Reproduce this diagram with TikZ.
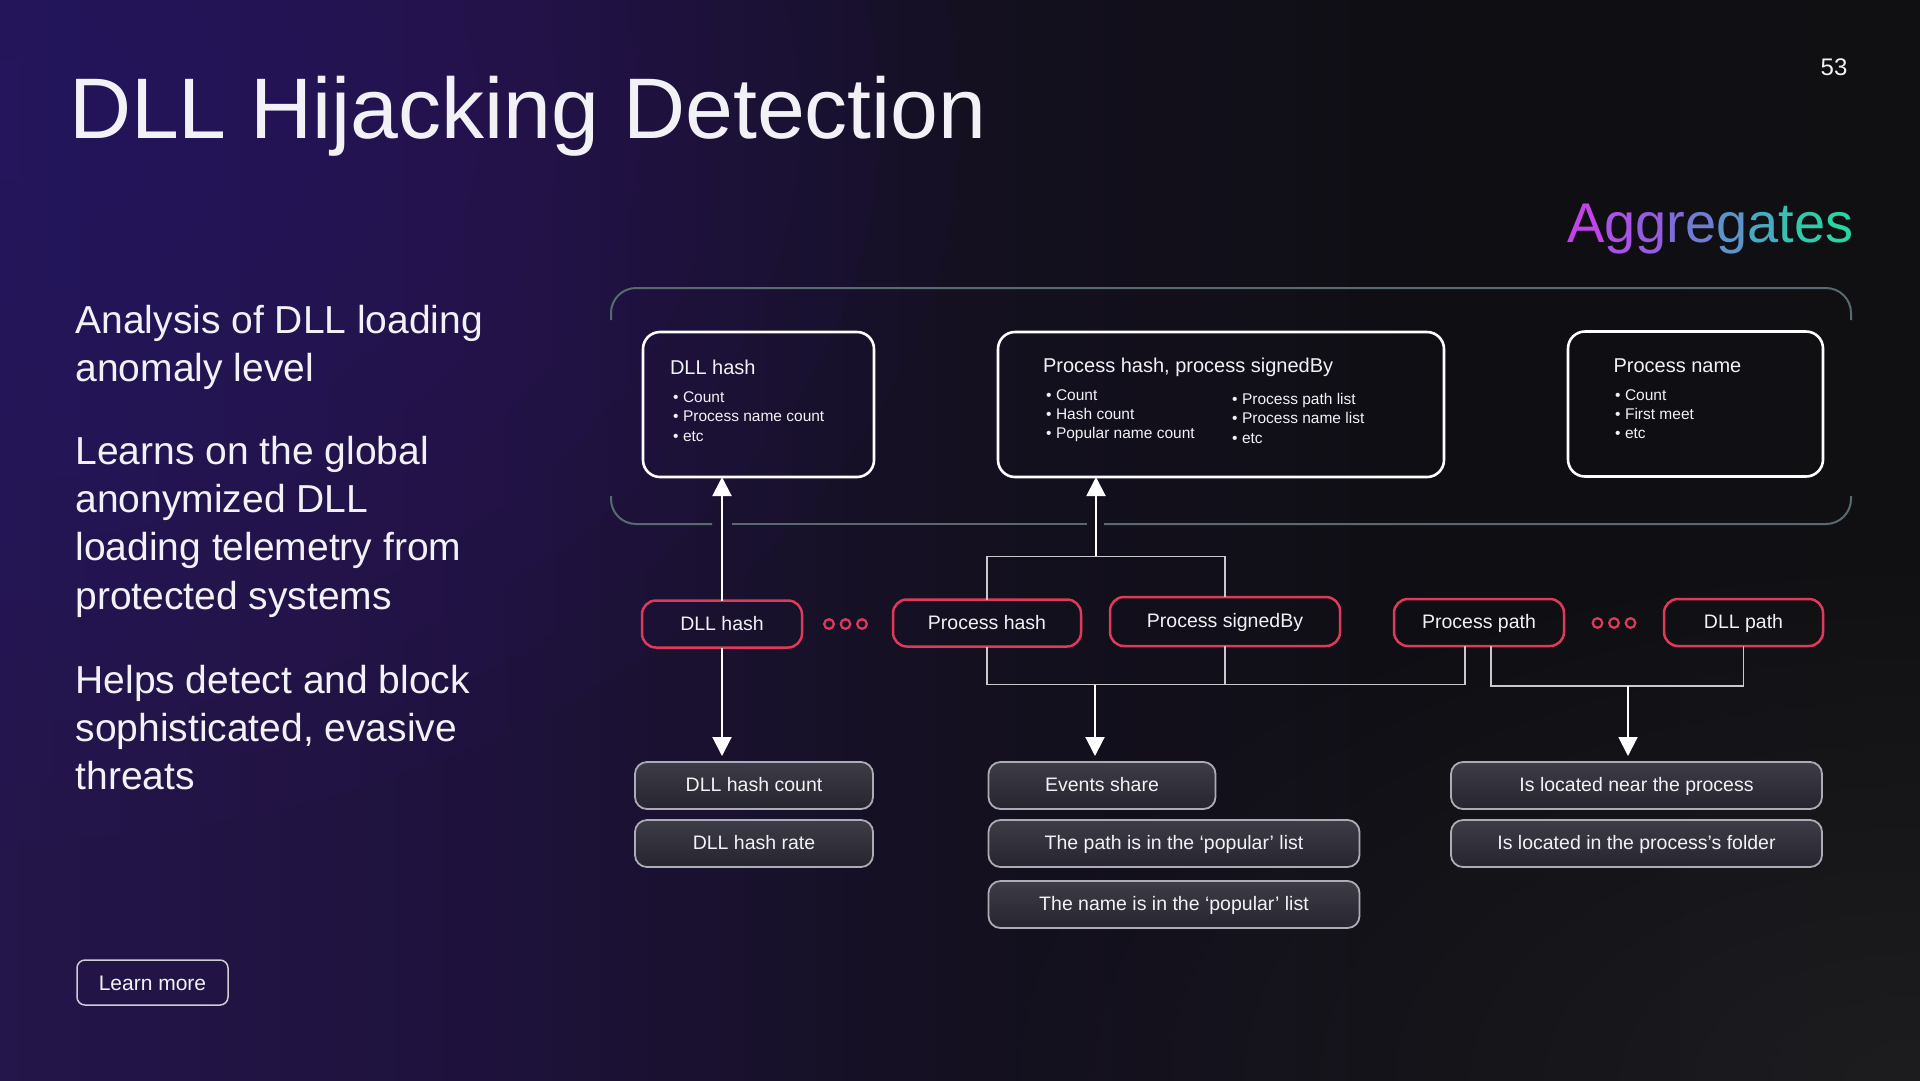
\documentclass[tikz,border=0pt]{standalone}
\usepackage{fontspec}
\setmainfont{Liberation Sans}
\usetikzlibrary{arrows.meta}
\newcommand\myfs[1]{\fontsize{#1pt}{#1pt}\selectfont}
\newcommand\mybul{•\hspace{4.6pt}}
\definecolor{bgA}{RGB}{36,21,74}
\definecolor{bgB}{RGB}{30,18,60}
\definecolor{bgC}{RGB}{20,16,32}
\definecolor{bgD}{RGB}{15,14,19}
\definecolor{bgE}{RGB}{16,16,19}
\definecolor{glowP}{RGB}{54,30,124}
\definecolor{glowG}{RGB}{50,50,55}
\definecolor{kred}{RGB}{224,58,90}
\definecolor{contc}{RGB}{88,106,112}
\definecolor{connc}{RGB}{200,200,205}
\definecolor{gfillT}{RGB}{62,60,70}
\definecolor{gfillB}{RGB}{38,36,46}
\definecolor{gdraw}{RGB}{172,172,180}
\definecolor{txt}{RGB}{242,242,246}
\definecolor{lmdraw}{RGB}{205,205,210}
\definecolor{agA}{RGB}{192,68,232}
\definecolor{agB}{RGB}{170,82,228}
\definecolor{agC}{RGB}{150,92,224}
\definecolor{agD}{RGB}{128,108,216}
\definecolor{agE}{RGB}{112,124,210}
\definecolor{agF}{RGB}{92,148,200}
\definecolor{agG}{RGB}{72,170,192}
\definecolor{agH}{RGB}{55,192,178}
\definecolor{agI}{RGB}{48,204,170}
\definecolor{agJ}{RGB}{42,212,164}
\begin{document}
\begin{tikzpicture}[x=1pt,y=-1pt,
  every node/.style={inner sep=0pt, outer sep=0pt, text=txt},
  redbox/.style={draw=kred, line width=2.5pt, rounded corners=14pt, minimum height=47pt,
    font=\myfs{19.5}, text height=13pt, text depth=1pt},
  aggbox/.style={draw=white, line width=2.6pt, rounded corners=17pt, minimum height=145pt},
  graybox/.style={draw=gdraw, line width=1.8pt, rounded corners=12pt, top color=gfillT,
    bottom color=gfillB, minimum height=47pt, font=\myfs{19.5}, text height=13pt, text depth=1pt},
  conn/.style={draw=connc, line width=1.6pt},
  arr/.style={draw=white, line width=2pt, -{Triangle[length=19pt,width=19pt]}},
  contline/.style={draw=contc, line width=2pt, rounded corners=25pt},
  lefttxt/.style={anchor=base west, font=\myfs{39}},
  aggtitle/.style={anchor=base west, font=\myfs{20}},
  bullet/.style={anchor=base west, font=\myfs{15.5}},
  reddot/.style={draw=kred, line width=2.2pt}
]
\useasboundingbox (0,0) rectangle (1920,1080);
% background
\shade[left color=bgA, right color=bgB] (0,0) rectangle (481,1080);
\shade[left color=bgB, right color=bgC] (480,0) rectangle (961,1080);
\shade[left color=bgC, right color=bgD] (960,0) rectangle (1441,1080);
\shade[left color=bgD, right color=bgE] (1440,0) rectangle (1920,1080);
\foreach \r in {1,...,12}
  \fill[glowP, fill opacity=0.05] (0,120) ellipse ({\r*80pt} and {\r*60pt});
\foreach \r in {1,...,12}
  \fill[glowG, fill opacity=0.05] (1920,1080) ellipse ({\r*75pt} and {\r*42pt});

% title and page number
\node[anchor=base west, font=\myfs{86}] (title) at (69,138) {DLL Hijacking Detection};
\node[anchor=base, font=\myfs{24}] (pnum) at (1834,75) {53};
\node[anchor=base west, font=\myfs{56}] (aggr) at (1567,242)
  {\color{agA}A\color{agB}g\color{agC}g\color{agD}r\color{agE}e\color{agF}g\color{agG}a\color{agH}t\color{agI}e\color{agJ}s};

% left text
\node[lefttxt] (p1a) at (75.5,333) {Analysis of DLL loading};
\node[lefttxt] (p1b) at (75.5,381) {anomaly level};
\node[lefttxt] (p2a) at (75.5,464) {Learns on the global};
\node[lefttxt] (p2b) at (75.5,512) {anonymized DLL};
\node[lefttxt] (p2c) at (75.5,560.5) {loading telemetry from};
\node[lefttxt] (p2d) at (75.5,609) {protected systems};
\node[lefttxt] (p3a) at (75.5,693) {Helps detect and block};
\node[lefttxt] (p3b) at (75.5,741) {sophisticated, evasive};
\node[lefttxt] (p3c) at (75.5,789) {threats};
\node[draw=lmdraw, line width=1.5pt, rounded corners=8pt, minimum width=151pt,
  minimum height=45pt, font=\myfs{21}, text height=15pt, text depth=0pt] (learn) at (152.5,982.5) {Learn more};

% aggregates container
\draw[contline] (611,320) -- (611,288) -- (1851,288) -- (1851,320);
\draw[contline] (712,524) -- (611,524) -- (611,496);
\draw[contline] (732,524) -- (1087,524);
\draw[contline] (1104,524) -- (1851,524) -- (1851,496);

% aggregate boxes
\node[aggbox, minimum width=231pt] (aDLL) at (758.5,404.5) {};
\node[aggbox, minimum width=446pt] (aProc) at (1221,404.5) {};
\node[aggbox, minimum width=255pt] (aName) at (1695.5,404) {};

\node[aggtitle] (aDLLt) at (670,374) {DLL hash};
\node[bullet] (aDLLb1) at (673,402) {\mybul Count};
\node[bullet] (aDLLb2) at (673,421) {\mybul Process name count};
\node[bullet] (aDLLb3) at (673,441) {\mybul etc};

\node[aggtitle] (aProct) at (1043,372) {Process hash, process signedBy};
\node[bullet] (aProcb1) at (1046,400) {\mybul Count};
\node[bullet] (aProcb2) at (1046,419) {\mybul Hash count};
\node[bullet] (aProcb3) at (1046,438) {\mybul Popular name count};
\node[bullet] (aProcb4) at (1232,404) {\mybul Process path list};
\node[bullet] (aProcb5) at (1232,423) {\mybul Process name list};
\node[bullet] (aProcb6) at (1232,443) {\mybul etc};

\node[aggtitle] (aNamet) at (1613.5,372) {Process name};
\node[bullet] (aNameb1) at (1615,400) {\mybul Count};
\node[bullet] (aNameb2) at (1615,419) {\mybul First meet};
\node[bullet] (aNameb3) at (1615,438) {\mybul etc};

% red attribute nodes
\node[redbox, minimum width=160pt] (rDLLhash) at (722,624) {DLL hash};
\node[redbox, minimum width=188pt] (rPhash) at (987,623) {Process hash};
\node[redbox, minimum width=230pt, minimum height=49pt] (rPsigned) at (1225,621.5) {Process signedBy};
\node[redbox, minimum width=170pt] (rPpath) at (1479,622.5) {Process path};
\node[redbox, minimum width=159pt] (rDLLpath) at (1743.5,622.5) {DLL path};
\foreach \cx in {829,845.5,862} \draw[reddot] (\cx,624) circle (4.8pt);
\foreach \cx in {1597.5,1614,1630.5} \draw[reddot] (\cx,623) circle (4.8pt);

% feature boxes
\node[graybox, minimum width=238pt] (gDHcount) at (754,785.5) {DLL hash count};
\node[graybox, minimum width=238pt] (gDHrate) at (754,843.5) {DLL hash rate};
\node[graybox, minimum width=227pt] (gEvents) at (1102,785.5) {Events share};
\node[graybox, minimum width=371pt] (gPath) at (1174,843.5) {The path is in the ‘popular’ list};
\node[graybox, minimum width=371pt] (gName) at (1174,904.5) {The name is in the ‘popular’ list};
\node[graybox, minimum width=371pt] (gNear) at (1636.5,785.5) {Is located near the process};
\node[graybox, minimum width=371pt] (gFolder) at (1636.5,843.5) {Is located in the process’s folder};

% connectors
\coordinate (jtop) at (1096,556);
\coordinate (jb1) at (1095,685);
\coordinate (jb2) at (1628,686);
\draw[conn] (rPhash.north) -- ++(0,-43) -| (rPsigned.north);
\draw[conn] (rPhash.south) -- ++(0,38) -| ([xshift=-14pt]rPpath.south);
\draw[conn] (rPsigned.south) -- (rPsigned.south |- jb1);
\draw[conn] ([xshift=12pt]rPpath.south) -- ++(0,40) -| (rDLLpath.south);

\draw[arr] (rDLLhash.north) -- (rDLLhash.north |- aDLL.south);
\draw[arr] (jtop) -- (jtop |- aProc.south);
\draw[arr, shorten >=6pt] (rDLLhash.south) -- (rDLLhash.south |- gDHcount.north);
\draw[arr, shorten >=6pt] (jb1) -- (jb1 |- gEvents.north);
\draw[arr, shorten >=6pt] (jb2) -- (jb2 |- gNear.north);
\end{tikzpicture}
\end{document}
